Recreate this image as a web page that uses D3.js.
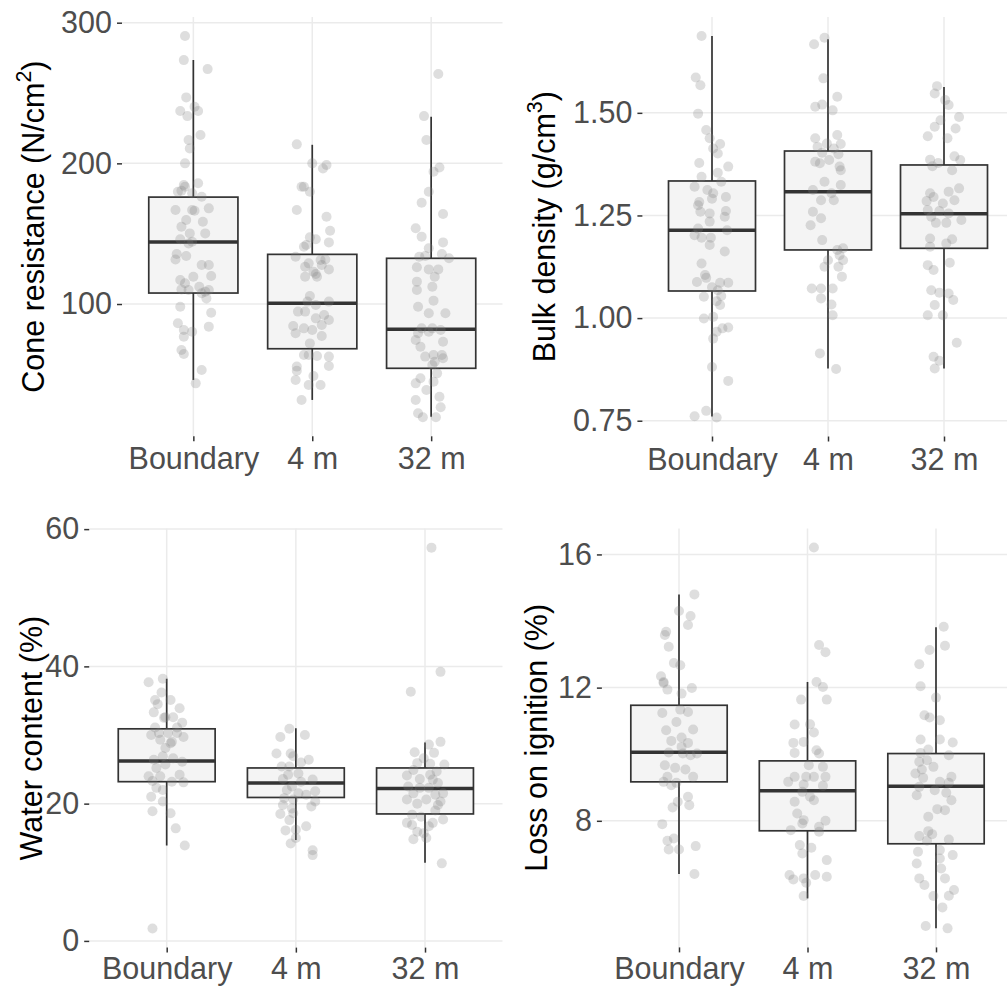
<!DOCTYPE html>
<html>
<head>
<meta charset="utf-8">
<script src="https://cdn.jsdelivr.net/npm/d3@7"></script>
<style>
  html, body { margin: 0; padding: 0; background: #ffffff; }
  svg { display: block; }
  text { font-family: "Liberation Sans", Arial, Helvetica, sans-serif; }
</style>
</head>
<body>
<svg id="chart" width="1007" height="988"></svg>
<script>
// ---------------- DATA ----------------
const categories = ["Boundary", "4 m", "32 m"];

// box stats per category: [lower whisker, Q1, median, Q3, upper whisker]
const coneStats  = [[46.0, 107.8, 144.1, 176.0, 273.4], [31.8, 68.2, 100.5, 135.3, 213.2], [19.9, 54.3, 82.0, 132.5, 233.1]];
const bulkStats  = [[0.760, 1.066, 1.214, 1.334, 1.687], [0.877, 1.166, 1.308, 1.407, 1.679], [0.877, 1.170, 1.254, 1.373, 1.563]];
const waterStats = [[13.9, 23.2, 26.2, 30.9, 38.2], [14.7, 20.9, 23.0, 25.2, 31.0], [11.4, 18.5, 22.2, 25.2, 28.9]];
const loiStats   = [[6.40, 9.17, 10.06, 11.47, 14.80], [5.67, 7.70, 8.90, 9.80, 12.17], [4.77, 7.31, 9.04, 10.02, 13.81]];

// jittered observations per category: [jitter (category units), value]
const conePts = [
  [[-0.07,290.5],[-0.08,273.4],[0.12,267.0],[-0.06,246.9],[0.01,240.2],[-0.11,237.2],[0.04,237.2],[-0.05,233.6],[0.06,220.1],[-0.04,216.6],[-0.03,210.6],[-0.07,200.0],[-0.08,184.6],[-0.07,183.4],[0.04,185.8],[-0.13,179.8],[-0.10,180.5],[-0.01,178.7],[0.07,176.3],[-0.15,166.8],[-0.01,166.8],[0.01,166.3],[0.13,168.0],[-0.06,159.7],[0.08,158.5],[-0.10,155.0],[-0.03,150.2],[0.10,150.2],[-0.11,146.0],[-0.01,144.3],[-0.04,143.1],[-0.14,135.5],[-0.15,131.7],[-0.06,134.1],[0.07,127.7],[0.13,127.7],[0.00,119.4],[0.15,119.9],[-0.11,117.1],[-0.07,114.7],[-0.10,110.4],[-0.04,110.0],[0.05,112.3],[0.10,108.8],[0.13,110.0],[0.07,107.6],[0.11,104.0],[-0.11,98.1],[0.15,93.8],[-0.13,86.3],[0.13,83.9],[-0.08,81.5],[-0.01,80.3],[-0.08,76.8],[-0.10,67.3],[-0.08,64.5],[0.07,53.1],[0.02,43.6]],
  [[-0.13,213.5],[-0.07,183.4],[-0.09,183.4],[-0.02,179.8],[-0.13,166.8],[0.12,162.1],[0.15,152.1],[-0.02,147.4],[0.03,146.0],[-0.05,141.9],[-0.07,140.7],[0.14,143.8],[-0.14,133.6],[0.11,131.7],[0.07,131.3],[-0.03,128.9],[-0.06,126.5],[0.08,127.7],[0.01,123.0],[0.14,124.6],[0.04,119.4],[-0.06,119.4],[0.03,121.3],[-0.02,105.7],[-0.04,101.7],[0.03,99.3],[0.14,101.7],[-0.12,94.6],[-0.06,94.6],[0.10,92.2],[0.03,89.8],[0.14,88.6],[-0.16,84.4],[-0.07,82.7],[0.00,81.5],[0.08,85.1],[-0.14,79.2],[0.08,77.3],[-0.02,72.0],[-0.07,63.8],[0.04,63.0],[0.14,62.6],[-0.03,63.8],[-0.13,55.5],[-0.13,52.6],[0.14,55.9],[-0.14,46.0],[0.01,48.8],[-0.03,42.4],[0.07,42.4],[-0.09,31.8],[0.00,200.0],[0.09,196.4],[0.12,198.8]],
  [[0.06,263.5],[-0.06,233.6],[-0.04,216.6],[0.02,194.1],[0.07,197.1],[-0.02,179.8],[-0.08,172.0],[0.10,164.0],[-0.13,153.8],[-0.08,147.9],[-0.02,139.6],[0.10,143.8],[-0.05,134.1],[-0.10,133.6],[0.09,135.5],[0.15,132.5],[-0.12,126.1],[-0.02,124.6],[0.06,124.6],[0.03,119.4],[-0.12,115.9],[0.01,112.3],[-0.12,110.0],[0.02,102.4],[-0.11,98.1],[0.12,93.4],[-0.02,93.4],[-0.08,82.7],[0.01,82.7],[-0.02,80.3],[0.08,81.5],[-0.11,79.2],[-0.13,74.4],[0.10,73.2],[-0.09,69.7],[0.02,63.8],[0.09,63.8],[-0.05,62.6],[0.03,59.0],[0.10,61.4],[0.01,56.6],[-0.09,47.2],[0.05,50.7],[-0.13,43.6],[-0.04,38.9],[-0.13,31.8],[0.07,34.1],[0.08,26.6],[-0.11,22.3],[-0.07,19.5],[0.04,19.5],[0.02,44.8]]
];
const bulkPts = [
  [[-0.09,1.687],[-0.14,1.586],[-0.10,1.567],[-0.12,1.498],[-0.05,1.458],[-0.02,1.438],[0.07,1.424],[0.01,1.413],[0.05,1.401],[-0.11,1.378],[0.14,1.369],[-0.09,1.344],[0.05,1.354],[0.08,1.332],[-0.15,1.320],[-0.04,1.312],[0.01,1.304],[0.12,1.295],[0.00,1.291],[-0.11,1.283],[-0.12,1.275],[-0.10,1.259],[0.12,1.261],[-0.02,1.255],[0.11,1.247],[-0.02,1.235],[-0.12,1.218],[0.13,1.214],[-0.15,1.202],[-0.09,1.196],[-0.01,1.196],[-0.02,1.178],[0.11,1.162],[-0.09,1.133],[-0.06,1.105],[-0.13,1.088],[-0.05,1.098],[0.07,1.086],[0.14,1.086],[0.00,1.075],[0.05,1.068],[-0.07,1.052],[0.08,1.054],[0.04,1.041],[0.07,1.032],[-0.07,0.999],[0.01,1.003],[0.14,0.977],[0.09,0.975],[0.04,0.967],[0.01,0.950],[0.00,0.881],[0.14,0.847],[-0.05,0.774],[-0.15,0.761],[0.04,0.758]],
  [[-0.12,1.667],[-0.03,1.683],[-0.04,1.584],[0.08,1.539],[-0.11,1.515],[-0.05,1.520],[0.04,1.506],[0.08,1.446],[-0.11,1.438],[-0.01,1.425],[0.11,1.424],[-0.09,1.417],[0.05,1.413],[-0.05,1.403],[0.09,1.399],[-0.11,1.381],[-0.07,1.377],[0.01,1.385],[0.10,1.369],[0.11,1.360],[-0.03,1.332],[0.11,1.324],[-0.13,1.312],[0.03,1.304],[-0.06,1.287],[0.05,1.287],[-0.13,1.259],[-0.06,1.243],[-0.15,1.226],[-0.05,1.190],[0.13,1.170],[0.08,1.166],[0.10,1.153],[0.00,1.141],[0.13,1.141],[-0.03,1.125],[0.09,1.125],[0.12,1.101],[-0.14,1.072],[-0.06,1.072],[0.04,1.072],[-0.06,1.048],[0.03,1.033],[0.04,1.007],[-0.07,0.914],[0.07,0.876]],
  [[-0.06,1.565],[-0.08,1.547],[0.01,1.531],[0.04,1.519],[-0.03,1.482],[0.13,1.490],[-0.08,1.466],[0.10,1.462],[-0.14,1.443],[0.03,1.438],[0.09,1.394],[-0.12,1.386],[-0.05,1.378],[0.14,1.385],[-0.10,1.370],[0.07,1.360],[0.13,1.316],[0.04,1.308],[-0.12,1.304],[-0.15,1.285],[-0.09,1.295],[-0.01,1.279],[0.09,1.287],[-0.14,1.263],[-0.04,1.261],[0.04,1.255],[-0.11,1.247],[0.15,1.239],[-0.07,1.232],[0.02,1.232],[-0.12,1.194],[0.07,1.192],[0.02,1.182],[-0.12,1.174],[-0.14,1.129],[-0.09,1.117],[0.05,1.135],[-0.11,1.068],[-0.04,1.062],[0.04,1.060],[0.08,1.044],[-0.08,1.032],[-0.14,1.007],[-0.01,1.007],[0.11,0.940],[-0.09,0.906],[-0.08,0.877],[-0.04,0.896]]
];
const waterPts = [
  [[-0.03,38.2],[-0.14,37.7],[-0.04,36.2],[0.03,35.1],[-0.07,34.5],[0.10,33.9],[-0.10,33.3],[-0.01,32.6],[0.05,32.6],[0.12,31.8],[-0.09,31.1],[0.08,31.1],[-0.12,30.0],[0.01,30.3],[0.13,29.7],[0.04,29.0],[-0.01,28.1],[-0.10,26.4],[-0.03,26.9],[0.05,26.6],[0.12,26.1],[-0.01,25.7],[-0.08,25.2],[-0.14,24.0],[-0.05,24.0],[0.10,24.2],[-0.11,23.3],[0.04,23.2],[0.13,23.1],[-0.08,22.3],[-0.03,22.0],[-0.12,21.0],[-0.03,20.3],[-0.11,18.9],[0.03,18.6],[0.07,16.4],[0.14,13.9],[-0.11,1.8],[-0.06,30.3],[-0.05,29.3],[0.03,28.8],[0.08,30.3],[-0.02,32.5],[-0.09,35.1]],
  [[-0.05,30.9],[0.07,30.0],[-0.12,29.7],[-0.15,27.3],[-0.04,27.3],[-0.02,26.9],[0.10,26.4],[0.04,26.0],[-0.11,25.4],[-0.05,25.4],[0.02,24.4],[-0.06,24.2],[-0.10,23.6],[0.13,23.5],[0.04,23.2],[-0.03,22.5],[-0.07,22.0],[0.15,21.8],[0.02,21.5],[0.08,21.3],[-0.09,20.8],[-0.02,20.6],[0.15,20.3],[0.12,19.6],[-0.10,19.8],[-0.03,19.3],[-0.12,18.5],[-0.02,18.6],[-0.05,17.6],[0.08,16.7],[-0.08,16.1],[0.00,15.0],[-0.04,14.2],[0.13,13.2],[0.13,12.5],[0.00,16.2]],
  [[0.05,57.3],[0.12,39.2],[-0.11,36.3],[0.12,29.0],[0.03,28.6],[-0.08,27.5],[0.07,27.4],[-0.01,26.6],[-0.06,25.9],[0.15,25.7],[0.04,25.8],[-0.09,24.9],[0.09,24.7],[0.04,24.2],[-0.14,24.1],[-0.04,23.6],[0.06,23.5],[0.10,23.0],[-0.13,22.5],[-0.04,22.3],[0.03,22.3],[-0.09,21.5],[0.14,21.5],[0.08,21.3],[-0.14,20.6],[0.01,20.6],[0.12,20.3],[-0.06,20.0],[0.10,19.8],[0.08,19.0],[-0.10,18.4],[-0.03,18.1],[0.14,17.7],[-0.14,17.2],[0.06,17.2],[-0.10,16.9],[0.03,16.7],[-0.06,15.9],[-0.01,15.7],[-0.09,14.8],[0.01,15.0],[0.13,11.3]]
];
const loiPts = [
  [[0.12,14.80],[0.00,14.30],[0.09,14.15],[0.07,13.88],[-0.10,13.68],[-0.11,13.58],[-0.08,13.23],[-0.04,12.74],[0.01,12.67],[-0.14,12.34],[-0.12,12.17],[-0.09,11.94],[0.10,11.99],[0.02,11.82],[-0.13,11.24],[0.01,11.34],[0.07,11.27],[-0.02,10.97],[-0.10,10.72],[0.11,10.74],[0.02,10.50],[-0.06,10.40],[0.07,10.34],[0.02,10.22],[-0.08,10.05],[0.03,10.02],[0.09,9.97],[0.14,10.02],[-0.11,9.67],[-0.03,9.59],[0.05,9.54],[0.11,9.32],[-0.09,9.32],[-0.12,9.17],[-0.02,9.14],[-0.06,9.07],[0.07,8.72],[-0.01,8.57],[0.08,8.47],[-0.05,8.40],[-0.13,7.90],[-0.04,7.47],[-0.09,7.40],[-0.08,7.14],[0.00,7.14],[0.13,7.24],[0.12,6.40],[-0.12,12.14]],
  [[0.05,16.21],[0.09,13.28],[0.14,13.06],[0.07,12.17],[0.12,12.02],[-0.05,11.64],[0.15,11.64],[-0.10,10.89],[0.02,10.90],[0.05,10.65],[-0.11,10.34],[-0.03,10.37],[0.07,10.12],[-0.10,10.04],[0.09,10.02],[0.01,9.67],[0.12,9.62],[-0.10,9.32],[-0.01,9.32],[0.05,9.32],[0.14,9.32],[-0.15,9.17],[-0.03,9.09],[0.12,9.05],[-0.04,8.87],[0.02,8.72],[-0.10,8.57],[0.05,8.62],[-0.08,8.22],[-0.03,8.02],[-0.04,7.92],[0.09,7.82],[0.14,8.00],[-0.13,7.72],[0.09,7.67],[-0.06,7.27],[0.03,7.19],[-0.04,7.02],[0.15,6.82],[-0.14,6.37],[-0.11,6.24],[-0.03,6.27],[0.06,6.37],[0.15,6.32],[-0.01,6.14],[-0.03,5.74]],
  [[0.06,13.83],[0.07,13.26],[-0.05,13.13],[-0.13,12.70],[-0.12,12.04],[0.00,11.70],[-0.09,11.17],[-0.05,11.10],[0.03,11.02],[-0.12,10.44],[0.03,10.44],[0.13,10.35],[-0.06,10.14],[-0.12,10.04],[0.10,9.97],[-0.07,9.82],[-0.13,9.77],[-0.02,9.62],[-0.11,9.54],[-0.16,9.42],[-0.10,9.29],[0.12,9.32],[0.03,9.17],[0.10,9.14],[-0.13,9.02],[-0.01,8.92],[0.08,8.84],[-0.15,8.77],[0.12,8.62],[0.01,8.35],[0.07,8.32],[-0.06,8.12],[-0.06,7.69],[-0.13,7.54],[-0.03,7.60],[0.10,7.44],[-0.07,7.40],[-0.14,7.07],[0.03,7.12],[-0.15,6.72],[0.03,6.87],[0.13,6.97],[0.04,6.57],[0.07,6.27],[-0.13,6.27],[-0.09,6.07],[0.14,5.92],[0.10,5.75],[-0.02,5.74],[0.05,5.40],[-0.08,4.84],[0.09,4.77]]
];

// tick labels
const coneTicks  = [100, 200, 300];
const bulkTicks  = [0.75, 1.00, 1.25, 1.50];
const waterTicks = [0, 20, 40, 60];
const loiTicks   = [8, 12, 16];

// axis titles [main, superscript, tail]
const coneTitle  = ["Cone resistance (N/cm", "2", ")"];
const bulkTitle  = ["Bulk density (g/cm", "3", ")"];
const waterTitle = ["Water content (%)", "", ""];
const loiTitle   = ["Loss on ignition (%)", "", ""];

// ---------------- LAYOUT ----------------
const panels = [
  { stats: coneStats,  pts: conePts,  ticks: coneTicks,  fmt: d3.format("d"),   title: coneTitle,
    left: 122,   right: 502.5,  top: 17,    bottom: 436.3, titleX: 43.5, xPad: 6.5 },
  { stats: bulkStats,  pts: bulkPts,  ticks: bulkTicks,  fmt: d3.format(".2f"), title: bulkTitle,
    left: 642.4, right: 1013.6, top: 17,    bottom: 436.5, titleX: 555,  xPad: 6.5 },
  { stats: waterStats, pts: waterPts, ticks: waterTicks, fmt: d3.format("d"),   title: waterTitle,
    left: 89.2,  right: 502.5,  top: 528.6, bottom: 947.6, titleX: 41.7, xPad: 4.5 },
  { stats: loiStats,   pts: loiPts,   ticks: loiTicks,   fmt: d3.format("d"),   title: loiTitle,
    left: 601.9, right: 1013.1, top: 528.4, bottom: 947.4, titleX: 546.7, xPad: 4.5 }
];

const FONT_TICK = 30.5;
const FONT_TITLE = 30.5;
const svg = d3.select("#chart");

panels.forEach(p => {
  const g = svg.append("g");

  // y domain: data range (points + whiskers) expanded by 5% like ggplot
  const allVals = p.pts.flat().map(d => d[1]).concat(p.stats.flat());
  const [mn, mx] = d3.extent(allVals);
  const pad = (mx - mn) * 0.05;
  const y = d3.scaleLinear().domain([mn - pad, mx + pad]).range([p.bottom, p.top]);
  const x = d3.scalePoint().domain(categories).range([p.left, p.right]).padding(0.6);
  const step = x.step();

  // grid
  g.append("g").selectAll("line.h").data(p.ticks).join("line")
    .attr("x1", p.left).attr("x2", p.right)
    .attr("y1", d => y(d)).attr("y2", d => y(d))
    .attr("stroke", "#ebebeb").attr("stroke-width", 1.5);
  g.append("g").selectAll("line.v").data(categories).join("line")
    .attr("x1", d => x(d)).attr("x2", d => x(d))
    .attr("y1", p.top).attr("y2", p.bottom)
    .attr("stroke", "#ebebeb").attr("stroke-width", 1.5);

  // axes
  const ya = g.append("g").attr("transform", `translate(${p.left},0)`)
    .call(d3.axisLeft(y).tickValues(p.ticks).tickFormat(p.fmt).tickSize(5).tickPadding(5));
  const xa = g.append("g").attr("transform", `translate(0,${p.bottom})`)
    .call(d3.axisBottom(x).tickSize(5).tickPadding(p.xPad));
  [ya, xa].forEach(a => {
    a.select(".domain").remove();
    a.selectAll(".tick line").attr("stroke", "#333333").attr("stroke-width", 1.5);
    a.selectAll(".tick text").attr("fill", "#4d4d4d")
      .style("font-size", FONT_TICK + "px")
      .style("font-family", '"Liberation Sans", Arial, Helvetica, sans-serif');
  });

  // boxes
  const bw = step * 0.75;
  const boxes = g.append("g").selectAll("g").data(p.stats).join("g");
  boxes.append("line")
    .attr("x1", (d, i) => x(categories[i])).attr("x2", (d, i) => x(categories[i]))
    .attr("y1", d => y(d[0])).attr("y2", d => y(d[4]))
    .attr("stroke", "#333333").attr("stroke-width", 1.7);
  boxes.append("rect")
    .attr("x", (d, i) => x(categories[i]) - bw / 2).attr("width", bw)
    .attr("y", d => y(d[3])).attr("height", d => y(d[1]) - y(d[3]))
    .attr("fill", "#f4f4f4").attr("stroke", "#333333").attr("stroke-width", 1.7);
  boxes.append("line")
    .attr("x1", (d, i) => x(categories[i]) - bw / 2).attr("x2", (d, i) => x(categories[i]) + bw / 2)
    .attr("y1", d => y(d[2])).attr("y2", d => y(d[2]))
    .attr("stroke", "#333333").attr("stroke-width", 3.5);

  // jittered points
  const pts = p.pts.flatMap((arr, i) => arr.map(d => ({ cat: categories[i], j: d[0], v: d[1] })));
  g.append("g").selectAll("circle").data(pts).join("circle")
    .attr("cx", d => x(d.cat) + d.j * step)
    .attr("cy", d => y(d.v))
    .attr("r", 5)
    .attr("fill", "#808080").attr("fill-opacity", 0.26);

  // y title
  const t = g.append("text")
    .attr("transform", `translate(${p.titleX},${(p.top + p.bottom) / 2}) rotate(-90)`)
    .attr("text-anchor", "middle")
    .attr("fill", "#000000")
    .style("font-size", FONT_TITLE + "px");
  t.append("tspan").text(p.title[0]);
  if (p.title[1]) {
    t.append("tspan").attr("dy", "-0.6em").style("font-size", "0.7em").text(p.title[1]);
    t.append("tspan").attr("dy", "0.42em").text(p.title[2]);
  }
});
</script>
</body>
</html>
